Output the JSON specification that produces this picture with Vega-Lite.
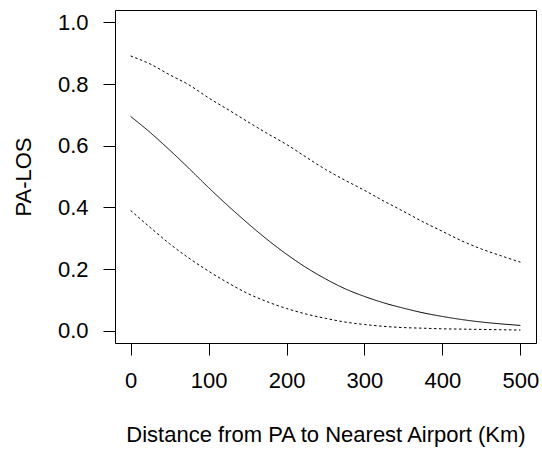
{
  "$schema": "https://vega.github.io/schema/vega-lite/v6.json",
  "width": 421,
  "height": 333,
  "autosize": {"type": "none"},
  "padding": {"left": 115, "top": 10, "right": 6, "bottom": 109},
  "background": "white",
  "config": {
    "font": "Liberation Sans",
    "view": {"stroke": "black", "strokeWidth": 1},
    "axis": {
      "domain": false,
      "grid": false,
      "ticks": true,
      "tickColor": "black",
      "tickSize": 12,
      "tickWidth": 1,
      "labelFont": "Liberation Sans",
      "labelFontSize": 22,
      "labelColor": "black",
      "labelPadding": 15,
      "titleFont": "Liberation Sans",
      "titleFontSize": 22,
      "titleFontWeight": "normal",
      "titleColor": "black"
    }
  },
  "data": {
    "values": [
      {"d": 0, "p": 0.695, "s": "fit"},
      {"d": 25, "p": 0.643, "s": "fit"},
      {"d": 50, "p": 0.586, "s": "fit"},
      {"d": 75, "p": 0.526, "s": "fit"},
      {"d": 100, "p": 0.464, "s": "fit"},
      {"d": 125, "p": 0.405, "s": "fit"},
      {"d": 150, "p": 0.349, "s": "fit"},
      {"d": 175, "p": 0.296, "s": "fit"},
      {"d": 200, "p": 0.248, "s": "fit"},
      {"d": 225, "p": 0.205, "s": "fit"},
      {"d": 250, "p": 0.168, "s": "fit"},
      {"d": 275, "p": 0.136, "s": "fit"},
      {"d": 300, "p": 0.111, "s": "fit"},
      {"d": 325, "p": 0.09, "s": "fit"},
      {"d": 350, "p": 0.073, "s": "fit"},
      {"d": 375, "p": 0.058, "s": "fit"},
      {"d": 400, "p": 0.046, "s": "fit"},
      {"d": 425, "p": 0.036, "s": "fit"},
      {"d": 450, "p": 0.028, "s": "fit"},
      {"d": 475, "p": 0.022, "s": "fit"},
      {"d": 500, "p": 0.017, "s": "fit"},
      {"d": 0, "p": 0.891, "s": "upper"},
      {"d": 25, "p": 0.865, "s": "upper"},
      {"d": 50, "p": 0.83, "s": "upper"},
      {"d": 75, "p": 0.797, "s": "upper"},
      {"d": 100, "p": 0.755, "s": "upper"},
      {"d": 125, "p": 0.717, "s": "upper"},
      {"d": 150, "p": 0.678, "s": "upper"},
      {"d": 175, "p": 0.64, "s": "upper"},
      {"d": 200, "p": 0.604, "s": "upper"},
      {"d": 225, "p": 0.563, "s": "upper"},
      {"d": 250, "p": 0.523, "s": "upper"},
      {"d": 275, "p": 0.488, "s": "upper"},
      {"d": 300, "p": 0.455, "s": "upper"},
      {"d": 325, "p": 0.42, "s": "upper"},
      {"d": 350, "p": 0.387, "s": "upper"},
      {"d": 375, "p": 0.353, "s": "upper"},
      {"d": 400, "p": 0.322, "s": "upper"},
      {"d": 425, "p": 0.291, "s": "upper"},
      {"d": 450, "p": 0.265, "s": "upper"},
      {"d": 475, "p": 0.243, "s": "upper"},
      {"d": 500, "p": 0.222, "s": "upper"},
      {"d": 0, "p": 0.39, "s": "lower"},
      {"d": 25, "p": 0.335, "s": "lower"},
      {"d": 50, "p": 0.282, "s": "lower"},
      {"d": 75, "p": 0.235, "s": "lower"},
      {"d": 100, "p": 0.193, "s": "lower"},
      {"d": 125, "p": 0.155, "s": "lower"},
      {"d": 150, "p": 0.121, "s": "lower"},
      {"d": 175, "p": 0.094, "s": "lower"},
      {"d": 200, "p": 0.072, "s": "lower"},
      {"d": 225, "p": 0.054, "s": "lower"},
      {"d": 250, "p": 0.04, "s": "lower"},
      {"d": 275, "p": 0.028, "s": "lower"},
      {"d": 300, "p": 0.02, "s": "lower"},
      {"d": 325, "p": 0.014, "s": "lower"},
      {"d": 350, "p": 0.01, "s": "lower"},
      {"d": 375, "p": 0.008, "s": "lower"},
      {"d": 400, "p": 0.006, "s": "lower"},
      {"d": 425, "p": 0.005, "s": "lower"},
      {"d": 450, "p": 0.004, "s": "lower"},
      {"d": 475, "p": 0.003, "s": "lower"},
      {"d": 500, "p": 0.002, "s": "lower"}
    ]
  },
  "mark": {"type": "line", "color": "black", "strokeWidth": 1, "interpolate": "monotone"},
  "encoding": {
    "x": {
      "field": "d",
      "type": "quantitative",
      "scale": {"domain": [-20, 520], "nice": false, "zero": false},
      "axis": {"values": [0, 100, 200, 300, 400, 500], "format": "d", "title": "Distance from PA to Nearest Airport (Km)", "titlePadding": 33}
    },
    "y": {
      "field": "p",
      "type": "quantitative",
      "scale": {"domain": [-0.04, 1.04], "nice": false, "zero": false},
      "axis": {"values": [0, 0.2, 0.4, 0.6, 0.8, 1.0], "format": ".1f", "title": "PA-LOS", "titlePadding": 22}
    },
    "detail": {"field": "s"},
    "strokeDash": {
      "field": "s",
      "type": "nominal",
      "scale": {"domain": ["fit", "lower", "upper"], "range": [[1, 0], [2.5, 2.5], [2.5, 2.5]]},
      "legend": null
    }
  }
}
